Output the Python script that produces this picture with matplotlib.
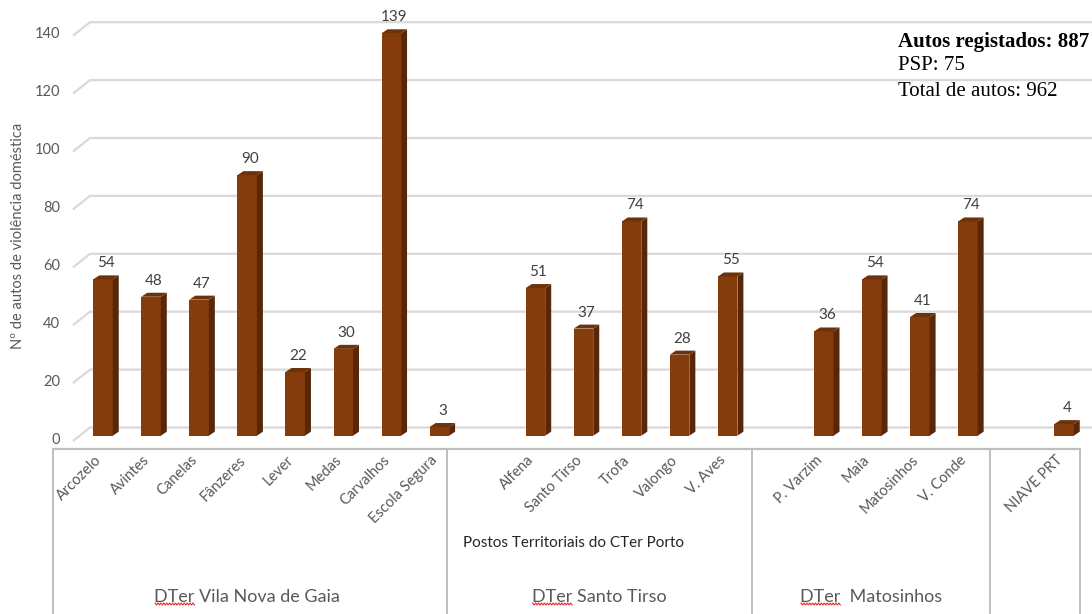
import numpy as np
import matplotlib
matplotlib.use("Agg")
import matplotlib.pyplot as plt
from matplotlib.patches import Polygon
from matplotlib.lines import Line2D
from matplotlib.transforms import IdentityTransform

# ---------------- data ----------------
gaia_names = ["Arcozelo", "Avintes", "Canelas", "Fânzeres", "Lever", "Medas", "Carvalhos", "Escola Segura"]
gaia_values = [54, 48, 47, 90, 22, 30, 139, 3]
st_names = ["Alfena", "Santo Tirso", "Trofa", "Valongo", "V. Aves"]
st_values = [51, 37, 74, 28, 55]
mat_names = ["P. Varzim", "Maia", "Matosinhos", "V. Conde"]
mat_values = [36, 54, 41, 74]
niave_names = ["NIAVE PRT"]
niave_values = [4]
group_labels = ["DTer Vila Nova de Gaia", "DTer Santo Tirso", "DTer  Matosinhos", ""]
yticks = [0, 20, 40, 60, 80, 100, 120, 140]
y_label = "Nº de autos de violência doméstica"
x_label = "Postos Territoriais do CTer Porto"
info_lines = ["Autos registados: 887", "PSP: 75", "Total de autos: 962"]

# ---------------- style / geometry ----------------
W, H, DPI = 1092, 614, 100
PX_SLOT = 48.05          # px per category slot
X0_PX = 103.0            # px of first bar front centre
PX_UNIT = 2.895          # px per value unit
Y0_PX = 435.7            # px of value 0 (bar base)

def sx(px):  # px -> slot
    return (px - X0_PX) / PX_SLOT

def sy(py):  # px (from top) -> value
    return (Y0_PX - py) / PX_UNIT

FRONT = "#843C0C"
SIDE = "#582708"
TOP = "#6E320A"
GRID = "#D9D9D9"
TXT = "#595959"
BOX = "#BFBFBF"

plt.rcParams["font.family"] = ["Lato", "DejaVu Sans"]

fig = plt.figure(figsize=(W / DPI, H / DPI), dpi=DPI)
ax = fig.add_axes([0, 0, 1, 1])
ax.set_xlim(sx(0), sx(W))
ax.set_ylim(sy(H), sy(0))
ax.axis("off")

# slots
groups = [(gaia_names, gaia_values), (st_names, st_values),
          (mat_names, mat_values), (niave_names, niave_values)]
names, values, slots = [], [], []
pos = 0
for gn, gv in groups:
    for n, v in zip(gn, gv):
        names.append(n)
        values.append(v)
        slots.append(pos)
        pos += 1
    pos += 1  # empty slot between groups
slots = np.array(slots, dtype=float)
values = np.array(values, dtype=float)

# ---------------- gridlines (3D wall) ----------------
back_dy = 8.2 / PX_UNIT
front_dy = -5.3 / PX_UNIT
xb = sx(90)
xf = sx(73)
for t in yticks:
    ax.plot([xf, xb, sx(W)], [t + front_dy, t + back_dy, t + back_dy],
            color=GRID, lw=1.6, zorder=1, solid_capstyle="butt")
    ax.text(sx(60), t + front_dy + 1.5 / PX_UNIT, f"{t}", ha="right", va="center",
            fontsize=10.5, color=TXT)

# ---------------- 3D bars ----------------
bw = 19.5 / PX_SLOT
ddx = 6.0 / PX_SLOT
ddy = 4.0 / PX_UNIT
ax.bar(slots, values, width=bw, color=FRONT, zorder=3, linewidth=0)
for x, v in zip(slots, values):
    xl, xr = x - bw / 2, x + bw / 2
    side = Polygon([(xr, 0), (xr + ddx, ddy), (xr + ddx, v + ddy), (xr, v)],
                   closed=True, facecolor=SIDE, edgecolor="none", zorder=3)
    top = Polygon([(xl, v), (xr, v), (xr + ddx, v + ddy), (xl + ddx, v + ddy)],
                  closed=True, facecolor=TOP, edgecolor="none", zorder=3)
    ax.add_patch(side)
    ax.add_patch(top)
    ax.text(x + ddx / 2, v + ddy + 5 / PX_UNIT, f"{int(v)}", ha="center", va="bottom",
            fontsize=11, color="#404040", zorder=4)

# ---------------- category axis box ----------------
ytop = sy(449)
ybot = sy(H + 5)
ax.plot([sx(53), sx(1080)], [ytop, ytop], color=BOX, lw=1.6, zorder=2)
for xp in [53, 447, 752, 990, 1080]:
    ax.plot([sx(xp), sx(xp)], [ytop, ybot], color=BOX, lw=1.4, zorder=2)

for x, n in zip(slots, names):
    ax.text(x + 0.02, sy(453), n, rotation=45, ha="right", va="top",
            fontsize=10.5, color=TXT)

ax.text(sx(463), sy(543), x_label, ha="left", va="center", fontsize=11, color="#262626")

group_centers_px = [247, 599, 871]
gtexts = []
for gl, cx in zip(group_labels[:3], group_centers_px):
    gtexts.append(ax.text(sx(cx), sy(597), gl, ha="center", va="center",
                          fontsize=13, color=TXT))

ax.text(sx(18), sy(236), y_label, rotation=90, ha="center", va="center",
        fontsize=10.5, color=TXT)

# info text (top right)
ax.text(sx(898), sy(42), info_lines[0], ha="left", va="center",
        fontsize=15, fontweight="bold", family="Liberation Serif", color="black")
ax.text(sx(898), sy(66), info_lines[1], ha="left", va="center",
        fontsize=15, family="Liberation Serif", color="black")
ax.text(sx(898), sy(92), info_lines[2], ha="left", va="center",
        fontsize=15, family="Liberation Serif", color="black")

# spell-check squiggles under "DTer"
fig.canvas.draw()
renderer = fig.canvas.get_renderer()
for t in gtexts:
    bb = t.get_window_extent(renderer)
    tmp = ax.text(0, 0, "DTer", fontsize=13)
    wb = tmp.get_window_extent(renderer)
    tmp.remove()
    x0, x1 = bb.x0 + 1, bb.x0 + wb.width
    yb = bb.y0 + 1
    xs = np.linspace(x0, x1, int((x1 - x0) / 1.5) + 2)
    ys = yb + 1.0 * np.where(np.arange(len(xs)) % 2 == 0, 1, -1)
    fig.add_artist(Line2D(xs, ys, transform=IdentityTransform(), color="#E03030", lw=0.8))

fig.savefig("out.png", dpi=DPI)
